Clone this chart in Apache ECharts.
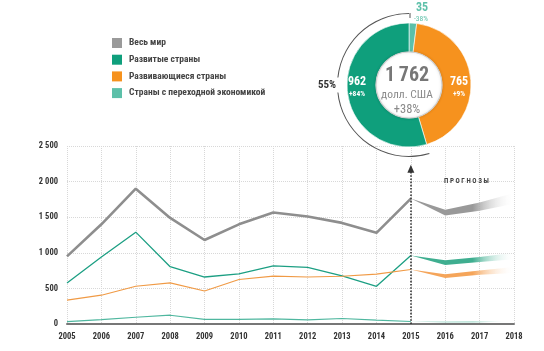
<!DOCTYPE html>
<html>
<head>
<meta charset="utf-8">
<script src="https://cdn.jsdelivr.net/npm/echarts@6/dist/echarts.min.js"></script>
<style>
html,body{margin:0;padding:0;background:#fff;}
#main{width:544px;height:351px;}
</style>
</head>
<body>
<div id="main"></div>
<script type="text/javascript">
// данные
var years = ['2005','2006','2007','2008','2009','2010','2011','2012','2013','2014','2015','2016','2017','2018'];
var worldVals      = [950, 1400, 1900, 1490, 1180, 1400, 1565, 1510, 1420, 1280, 1762, null, null, null];
var developedVals  = [576, 940, 1290, 805, 660, 705, 815, 795, 675, 530, 962, null, null, null];
var developingVals = [335, 405, 530, 578, 463, 625, 672, 660, 670, 700, 765, null, null, null];
var transitionVals = [33, 62, 94, 124, 65, 65, 72, 58, 78, 55, 35, null, null, null];
// прогнозы: нижняя граница и ширина коридора (2015-2018)
var worldLow  = [1762, 1525, 1590, 1690], worldBand  = [0, 80, 115, 150];
var devLow    = [962, 830, 870, 910],     devBand    = [0, 65, 70, 90];
var devingLow = [765, 645, 690, 715],     devingBand = [0, 55, 60, 85];
var transLow  = [35, 22, 22, 22],         transBand  = [0, 12, 16, 20];
var yTicks = [0, 500, 1000, 1500, 2000, 2500];
var donutNames = ['Переходные', 'Развивающиеся', 'Развитые'];
var donutVals  = [35, 765, 962];

var FONT = '"Roboto Condensed", Roboto, sans-serif';
var cGray = '#8e8e8e', cGreen = '#0f9f7c', cOrange = '#f6921e', cTeal = '#5cc0a9';

function pad(arr){ return [null,null,null,null,null,null,null,null,null,null].concat(arr); }
function fade(c){
    return new echarts.graphic.LinearGradient(0,0,1,0,[
        {offset:0,color:c},{offset:0.6,color:c},{offset:1,color:'rgba(255,255,255,0)'}]);
}
function band(name, low, w, c){
    return [
        {name:name+'_lo', type:'line', stack:name, data:pad(low), symbol:'none', silent:true,
         lineStyle:{opacity:0}, z:1},
        {name:name+'_band', type:'line', stack:name, data:pad(w), symbol:'none', silent:true,
         lineStyle:{opacity:0}, areaStyle:{color:fade(c), opacity:1}, z:1}
    ];
}

var chart = echarts.init(document.getElementById('main'));
var option = {
    animation:false,
    textStyle:{fontFamily:FONT},
    grid:{left:67, right:30, top:146, bottom:27},
    legend:{
        orient:'vertical', left:107, top:33, itemWidth:10, itemHeight:10, itemGap:6.7,
        icon:'rect',
        textStyle:{fontFamily:FONT, fontSize:9.5, fontWeight:'bold', color:'#444', lineHeight:10, padding:[0,0,0,2]},
        data:[
            {name:'Весь мир', itemStyle:{color:'#9a9a9a'}},
            {name:'Развитые страны', itemStyle:{color:cGreen}},
            {name:'Развивающиеся страны', itemStyle:{color:cOrange}},
            {name:'Страны с переходной экономикой', itemStyle:{color:cTeal}}
        ]
    },
    xAxis:{
        type:'category', data:years, boundaryGap:false,
        axisLine:{lineStyle:{color:'#777', width:2}},
        axisTick:{show:false},
        axisLabel:{fontFamily:FONT, fontSize:8.5, fontWeight:'bold', color:'#333', margin:8, interval:0},
        splitLine:{show:true, interval:0, lineStyle:{color:'#d8d8d8', type:'dotted'}}
    },
    yAxis:{
        type:'value', min:0, max:2500, interval:500,
        axisLine:{show:false}, axisTick:{show:false},
        axisLabel:{fontFamily:FONT, fontSize:8.5, fontWeight:'bold', color:'#333', margin:9,
            formatter:function(v){ return String(v).replace(/\B(?=(\d{3})+(?!\d))/g,' '); }},
        splitLine:{lineStyle:{color:'#d8d8d8', type:'dotted'}}
    },
    series:[].concat(
        band('w', worldLow, worldBand, '#999999'),
        band('d', devLow, devBand, '#3fae90'),
        band('g', devingLow, devingBand, '#f5a55a'),
        band('t', transLow, transBand, '#a6dccd'),
        [
        {name:'Весь мир', type:'line', data:worldVals, symbol:'none', z:3,
         lineStyle:{color:cGray, width:2.6}, itemStyle:{color:cGray},
         markLine:{silent:true, symbol:['none','triangle'], symbolSize:[7,8],
            lineStyle:{color:'#333', type:'dotted', width:1.6}, label:{show:false},
            data:[[{coord:['2015',0]},{coord:['2015',2180]}]]}},
        {name:'Развитые страны', type:'line', data:developedVals, symbol:'none', z:3,
         lineStyle:{color:'#1c9f83', width:1.3}, itemStyle:{color:cGreen}},
        {name:'Развивающиеся страны', type:'line', data:developingVals, symbol:'none', z:3,
         lineStyle:{color:'#f09a45', width:1.1}, itemStyle:{color:cOrange}},
        {name:'Страны с переходной экономикой', type:'line', data:transitionVals, symbol:'none', z:3,
         lineStyle:{color:'#4fb79f', width:1.1}, itemStyle:{color:cTeal}},
        // дуга 55%
        {type:'pie', silent:true, center:[409,85], radius:[71,72], startAngle:90, clockwise:true,
         label:{show:false}, labelLine:{show:false}, z:4,
         data:donutVals.map(function(v,i){ return {name:'a'+i, value:v,
            itemStyle:{color: i==2 ? '#555' : 'rgba(0,0,0,0)'}}; })},
        // кольцо
        {type:'pie', silent:true, center:[409,85], radius:[33,62], startAngle:90, clockwise:true,
         label:{show:false}, labelLine:{show:false}, z:5,
         itemStyle:{borderColor:'#fff', borderWidth:0.6},
         data:donutVals.map(function(v,i){ return {name:donutNames[i], value:v,
            itemStyle:{color:[cTeal, cOrange, cGreen][i]}}; })},
        // центр
        {type:'pie', silent:true, center:[409,85], radius:[0,33], z:6,
         label:{show:false}, labelLine:{show:false},
         itemStyle:{color:'#fff', borderColor:'#cfcfcf', borderWidth:1.2, shadowBlur:3, shadowColor:'rgba(0,0,0,0.15)'},
         data:[{name:'c', value:1}]}
        ]
    ),
    graphic:[
        {type:'text', x:422, y:8, z:20, style:{text:'35', fill:cTeal, font:'bold 12px '+FONT, align:'center', verticalAlign:'middle'}},
        {type:'text', x:421, y:19, z:20, style:{text:'-38%', fill:cTeal, font:'7.5px '+FONT, align:'center', verticalAlign:'middle'}},
        {type:'line', z:20, shape:{x1:410, y1:13, x2:410, y2:18}, style:{stroke:'#555', lineWidth:1}},
        {type:'text', x:357, y:82, z:20, style:{text:'962', fill:'#fff', font:'bold 12px '+FONT, align:'center', verticalAlign:'middle'}},
        {type:'text', x:357, y:94, z:20, style:{text:'+84%', fill:'#fff', font:'bold 7.5px '+FONT, align:'center', verticalAlign:'middle'}},
        {type:'text', x:459, y:82, z:20, style:{text:'765', fill:'#fff', font:'bold 12px '+FONT, align:'center', verticalAlign:'middle'}},
        {type:'text', x:459, y:94, z:20, style:{text:'+9%', fill:'#fff', font:'bold 7.5px '+FONT, align:'center', verticalAlign:'middle'}},
        {type:'text', x:407, y:76, z:20, style:{text:'1\u2009762', fill:'#777', font:'bold 20px '+FONT, align:'center', verticalAlign:'middle'}},
        {type:'text', x:407, y:95, z:20, style:{text:'долл. США', fill:'#8a8a8a', font:'11.5px '+FONT, align:'center', verticalAlign:'middle'}},
        {type:'text', x:407, y:110, z:20, style:{text:'+38%', fill:'#8a8a8a', font:'12.5px '+FONT, align:'center', verticalAlign:'middle'}},
        {type:'text', x:327, y:85, z:20, style:{text:'55%', fill:'#333', font:'bold 11px '+FONT, align:'center', verticalAlign:'middle',
            backgroundColor:'#fff', padding:[2,3]}},
        {type:'text', x:444, y:181, z:20, style:{text:'П Р О Г Н О З Ы', fill:'#444', font:'bold 7px '+FONT, verticalAlign:'middle'}}
    ]
};
chart.setOption(option);
</script>
</body>
</html>
